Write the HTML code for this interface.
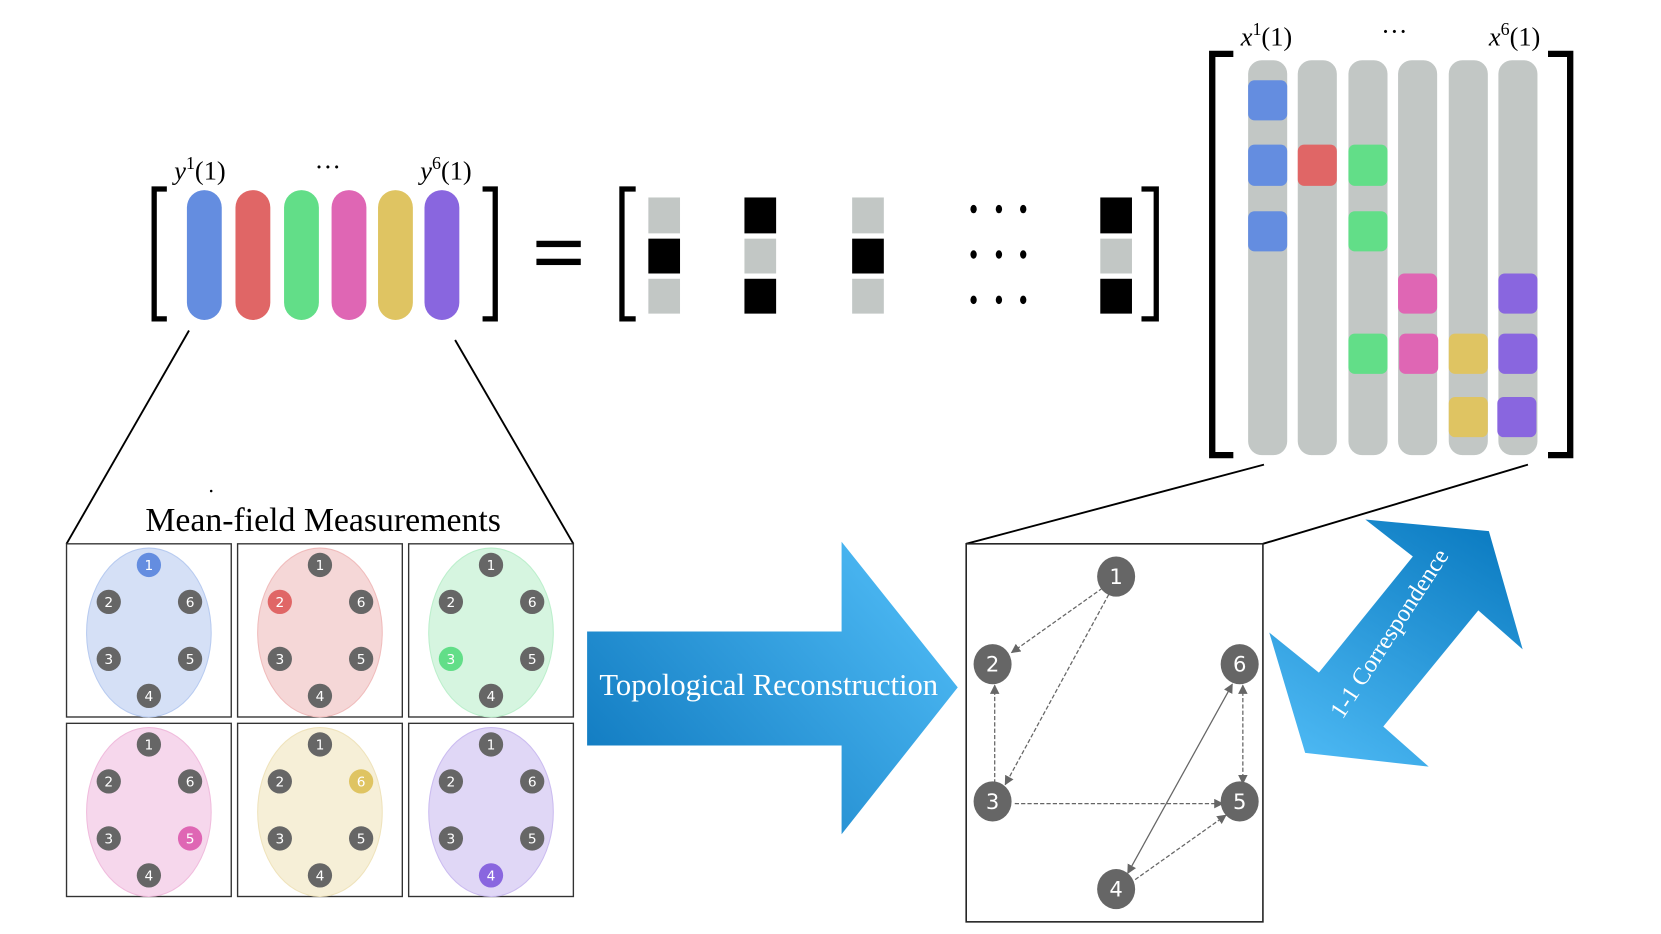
<!DOCTYPE html>
<html><head><meta charset="utf-8"><style>html,body{margin:0;padding:0;background:#fff}svg{display:block}</style></head>
<body>
<svg width="1661" height="934" viewBox="0 0 1573 884.5" xmlns="http://www.w3.org/2000/svg">
<defs>
<linearGradient id="ga" x1="0" y1="1" x2="1" y2="0.3">
<stop offset="0" stop-color="#0a74bb"/><stop offset="1" stop-color="#4cb8f3"/></linearGradient>
<linearGradient id="gb" x1="0.2" y1="1" x2="0.8" y2="0">
<stop offset="0" stop-color="#4cb8f3"/><stop offset="1" stop-color="#0c7cc2"/></linearGradient>
<marker id="ah" viewBox="0 0 10 10" refX="9" refY="5" markerWidth="9" markerHeight="9" markerUnits="userSpaceOnUse" orient="auto-start-reverse">
<path d="M0,0 L10,5 L0,10 z" fill="#666"/></marker>
</defs>

<g font-family="Liberation Serif, serif" font-size="25" fill="#000">
<text x="165" y="170"><tspan font-style="italic">y</tspan><tspan font-size="17" dy="-10">1</tspan><tspan dy="10">(1)</tspan></text>
<text x="298" y="166">···</text>
<text x="398" y="170"><tspan font-style="italic">y</tspan><tspan font-size="17" dy="-10">6</tspan><tspan dy="10">(1)</tspan></text>
</g>
<path d="M158,179 H146 V302 H158" fill="none" stroke="#000" stroke-width="5"/>
<path d="M457,179 H469 V302 H457" fill="none" stroke="#000" stroke-width="5"/>
<rect x="177" y="180" width="33" height="123" rx="16.5" fill="#648de0"/>
<rect x="223" y="180" width="33" height="123" rx="16.5" fill="#e06666"/>
<rect x="269" y="180" width="33" height="123" rx="16.5" fill="#62de88"/>
<rect x="314" y="180" width="33" height="123" rx="16.5" fill="#df66b4"/>
<rect x="358" y="180" width="33" height="123" rx="16.5" fill="#dfc462"/>
<rect x="402" y="180" width="33" height="123" rx="16.5" fill="#8966df"/>

<rect x="508" y="228" width="42" height="6" fill="#000"/>
<rect x="508" y="245" width="42" height="6" fill="#000"/>

<path d="M602,179 H589 V302 H602" fill="none" stroke="#000" stroke-width="5"/>
<path d="M1081,179 H1095 V302 H1081" fill="none" stroke="#000" stroke-width="5"/>
<g>
<rect x="614" y="187" width="30" height="34" fill="#c2c7c5"/><rect x="614" y="226" width="30" height="33" fill="#000"/><rect x="614" y="264" width="30" height="33" fill="#c2c7c5"/>
<rect x="705" y="187" width="30" height="34" fill="#000"/><rect x="705" y="226" width="30" height="33" fill="#c2c7c5"/><rect x="705" y="264" width="30" height="33" fill="#000"/>
<rect x="807" y="187" width="30" height="34" fill="#c2c7c5"/><rect x="807" y="226" width="30" height="33" fill="#000"/><rect x="807" y="264" width="30" height="33" fill="#c2c7c5"/>
<rect x="1042" y="187" width="30" height="34" fill="#000"/><rect x="1042" y="226" width="30" height="33" fill="#c2c7c5"/><rect x="1042" y="264" width="30" height="33" fill="#000"/>
</g>
<g fill="#000">
<ellipse cx="922" cy="198" rx="3" ry="4"/><ellipse cx="946" cy="198" rx="3" ry="4"/><ellipse cx="969" cy="198" rx="3" ry="4"/>
<ellipse cx="922" cy="241" rx="3" ry="4"/><ellipse cx="946" cy="241" rx="3" ry="4"/><ellipse cx="969" cy="241" rx="3" ry="4"/>
<ellipse cx="922" cy="284" rx="3" ry="4"/><ellipse cx="946" cy="284" rx="3" ry="4"/><ellipse cx="969" cy="284" rx="3" ry="4"/>
</g>

<g font-family="Liberation Serif, serif" font-size="25" fill="#000">
<text x="1175" y="43"><tspan font-style="italic">x</tspan><tspan font-size="17" dy="-10">1</tspan><tspan dy="10">(1)</tspan></text>
<text x="1308" y="38">···</text>
<text x="1410" y="43"><tspan font-style="italic">x</tspan><tspan font-size="17" dy="-10">6</tspan><tspan dy="10">(1)</tspan></text>
</g>
<path d="M1168,51 H1148 V431 H1168" fill="none" stroke="#000" stroke-width="6"/>
<path d="M1466,51 H1487 V431 H1466" fill="none" stroke="#000" stroke-width="6"/>
<g fill="#c2c7c5">
<rect x="1182" y="57" width="37" height="374" rx="13"/>
<rect x="1229" y="57" width="37" height="374" rx="13"/>
<rect x="1277" y="57" width="37" height="374" rx="13"/>
<rect x="1324" y="57" width="37" height="374" rx="13"/>
<rect x="1372" y="57" width="37" height="374" rx="13"/>
<rect x="1419" y="57" width="37" height="374" rx="13"/>
</g>
<g>
<rect x="1182" y="76" width="37" height="38" rx="6" fill="#648de0"/>
<rect x="1182" y="137" width="37" height="39" rx="6" fill="#648de0"/>
<rect x="1182" y="200" width="37" height="38" rx="6" fill="#648de0"/>
<rect x="1229" y="137" width="37" height="39" rx="6" fill="#e06666"/>
<rect x="1277" y="137" width="37" height="39" rx="6" fill="#62de88"/>
<rect x="1277" y="200" width="37" height="38" rx="6" fill="#62de88"/>
<rect x="1277" y="316" width="37" height="38" rx="6" fill="#62de88"/>
<rect x="1324" y="259" width="37" height="38" rx="6" fill="#df66b4"/>
<rect x="1325" y="316" width="37" height="38" rx="6" fill="#df66b4"/>
<rect x="1372" y="316" width="37" height="38" rx="6" fill="#dfc462"/>
<rect x="1372" y="376" width="37" height="38" rx="6" fill="#dfc462"/>
<rect x="1419" y="259" width="37" height="38" rx="6" fill="#8966df"/>
<rect x="1419" y="316" width="37" height="38" rx="6" fill="#8966df"/>
<rect x="1418" y="376" width="37" height="38" rx="6" fill="#8966df"/>
</g>

<g stroke="#000" stroke-width="1.8">
<line x1="179" y1="313" x2="63" y2="515"/>
<line x1="431" y1="322" x2="543" y2="515"/>
<line x1="1197" y1="440" x2="915" y2="515"/>
<line x1="1447" y1="440" x2="1196" y2="515"/>
</g>
<circle cx="200" cy="465" r="1.2" fill="#000"/>
<text x="306" y="503" text-anchor="middle" font-family="Liberation Serif, serif" font-size="32" fill="#000">Mean-field Measurements</text>

<g font-family="DejaVu Sans, sans-serif" font-size="13" text-anchor="middle">
<g transform="translate(63,515)">
<rect x="0" y="0" width="156" height="164" fill="#fff" stroke="#333" stroke-width="1.3"/>
<ellipse cx="78" cy="84" rx="59" ry="80" fill="#d5e0f6" stroke="#b8cbf0"/>
<circle cx="78" cy="20" r="11.5" fill="#648de0"/><circle cx="40" cy="55" r="11.5" fill="#666"/><circle cx="117" cy="55" r="11.5" fill="#666"/><circle cx="40" cy="109" r="11.5" fill="#666"/><circle cx="117" cy="109" r="11.5" fill="#666"/><circle cx="78" cy="144" r="11.5" fill="#666"/>
<g fill="#fff"><text x="78" y="25">1</text><text x="40" y="60">2</text><text x="117" y="60">6</text><text x="40" y="114">3</text><text x="117" y="114">5</text><text x="78" y="149">4</text></g>
</g>
<g transform="translate(225,515)">
<rect x="0" y="0" width="156" height="164" fill="#fff" stroke="#333" stroke-width="1.3"/>
<ellipse cx="78" cy="84" rx="59" ry="80" fill="#f5d7d7" stroke="#f0bcbc"/>
<circle cx="78" cy="20" r="11.5" fill="#666"/><circle cx="40" cy="55" r="11.5" fill="#e06666"/><circle cx="117" cy="55" r="11.5" fill="#666"/><circle cx="40" cy="109" r="11.5" fill="#666"/><circle cx="117" cy="109" r="11.5" fill="#666"/><circle cx="78" cy="144" r="11.5" fill="#666"/>
<g fill="#fff"><text x="78" y="25">1</text><text x="40" y="60">2</text><text x="117" y="60">6</text><text x="40" y="114">3</text><text x="117" y="114">5</text><text x="78" y="149">4</text></g>
</g>
<g transform="translate(387,515)">
<rect x="0" y="0" width="156" height="164" fill="#fff" stroke="#333" stroke-width="1.3"/>
<ellipse cx="78" cy="84" rx="59" ry="80" fill="#d6f5e0" stroke="#bcefcc"/>
<circle cx="78" cy="20" r="11.5" fill="#666"/><circle cx="40" cy="55" r="11.5" fill="#666"/><circle cx="117" cy="55" r="11.5" fill="#666"/><circle cx="40" cy="109" r="11.5" fill="#62de88"/><circle cx="117" cy="109" r="11.5" fill="#666"/><circle cx="78" cy="144" r="11.5" fill="#666"/>
<g fill="#fff"><text x="78" y="25">1</text><text x="40" y="60">2</text><text x="117" y="60">6</text><text x="40" y="114">3</text><text x="117" y="114">5</text><text x="78" y="149">4</text></g>
</g>
<g transform="translate(63,685)">
<rect x="0" y="0" width="156" height="164" fill="#fff" stroke="#333" stroke-width="1.3"/>
<ellipse cx="78" cy="84" rx="59" ry="80" fill="#f6d7ec" stroke="#f0bcdd"/>
<circle cx="78" cy="20" r="11.5" fill="#666"/><circle cx="40" cy="55" r="11.5" fill="#666"/><circle cx="117" cy="55" r="11.5" fill="#666"/><circle cx="40" cy="109" r="11.5" fill="#666"/><circle cx="117" cy="109" r="11.5" fill="#df66b4"/><circle cx="78" cy="144" r="11.5" fill="#666"/>
<g fill="#fff"><text x="78" y="25">1</text><text x="40" y="60">2</text><text x="117" y="60">6</text><text x="40" y="114">3</text><text x="117" y="114">5</text><text x="78" y="149">4</text></g>
</g>
<g transform="translate(225,685)">
<rect x="0" y="0" width="156" height="164" fill="#fff" stroke="#333" stroke-width="1.3"/>
<ellipse cx="78" cy="84" rx="59" ry="80" fill="#f6efd7" stroke="#efe3bc"/>
<circle cx="78" cy="20" r="11.5" fill="#666"/><circle cx="40" cy="55" r="11.5" fill="#666"/><circle cx="117" cy="55" r="11.5" fill="#dfc462"/><circle cx="40" cy="109" r="11.5" fill="#666"/><circle cx="117" cy="109" r="11.5" fill="#666"/><circle cx="78" cy="144" r="11.5" fill="#666"/>
<g fill="#fff"><text x="78" y="25">1</text><text x="40" y="60">2</text><text x="117" y="60">6</text><text x="40" y="114">3</text><text x="117" y="114">5</text><text x="78" y="149">4</text></g>
</g>
<g transform="translate(387,685)">
<rect x="0" y="0" width="156" height="164" fill="#fff" stroke="#333" stroke-width="1.3"/>
<ellipse cx="78" cy="84" rx="59" ry="80" fill="#e0d7f6" stroke="#cbbcf0"/>
<circle cx="78" cy="20" r="11.5" fill="#666"/><circle cx="40" cy="55" r="11.5" fill="#666"/><circle cx="117" cy="55" r="11.5" fill="#666"/><circle cx="40" cy="109" r="11.5" fill="#666"/><circle cx="117" cy="109" r="11.5" fill="#666"/><circle cx="78" cy="144" r="11.5" fill="#8966df"/>
<g fill="#fff"><text x="78" y="25">1</text><text x="40" y="60">2</text><text x="117" y="60">6</text><text x="40" y="114">3</text><text x="117" y="114">5</text><text x="78" y="149">4</text></g>
</g>
</g>

<polygon points="556,598 797,598 797,513 907,651 797,790 797,706 556,706" fill="url(#ga)"/>
<text x="728" y="658" text-anchor="middle" font-family="Liberation Serif, serif" font-size="29" fill="#fff">Topological Reconstruction</text>

<rect x="915" y="515" width="281" height="358" fill="#fff" stroke="#222" stroke-width="1.5"/>
<g stroke="#666" stroke-width="1.2" fill="none">
<line x1="1044" y1="557" x2="958" y2="618" stroke-dasharray="4,2" marker-end="url(#ah)"/>
<line x1="1050" y1="563" x2="952" y2="743" stroke-dasharray="4,2" marker-end="url(#ah)"/>
<line x1="942" y1="742" x2="942" y2="649" stroke-dasharray="4,2" marker-end="url(#ah)"/>
<line x1="961" y1="761" x2="1158" y2="761" stroke-dasharray="4,2" marker-end="url(#ah)"/>
<line x1="1068" y1="827" x2="1167" y2="648" marker-start="url(#ah)" marker-end="url(#ah)"/>
<line x1="1177" y1="649" x2="1177" y2="742" stroke-dasharray="4,2" marker-start="url(#ah)" marker-end="url(#ah)"/>
<line x1="1075" y1="833" x2="1161" y2="772" stroke-dasharray="4,2" marker-end="url(#ah)"/>
</g>
<g fill="#666">
<ellipse cx="1057" cy="546" rx="18" ry="19"/><ellipse cx="940" cy="629" rx="18" ry="19"/><ellipse cx="1174" cy="629" rx="18" ry="19"/>
<ellipse cx="940" cy="759" rx="18" ry="19"/><ellipse cx="1174" cy="759" rx="18" ry="19"/><ellipse cx="1057" cy="842" rx="18" ry="19"/>
</g>
<g fill="#fff" font-family="DejaVu Sans, sans-serif" font-size="20" text-anchor="middle">
<text x="1057" y="553">1</text><text x="940" y="636">2</text><text x="1174" y="636">6</text>
<text x="940" y="766">3</text><text x="1174" y="766">5</text><text x="1057" y="849">4</text>
</g>

<polygon points="1293,492 1410,503 1442,615 1400,578 1310,688 1353,726 1236,713 1202,599 1249,637 1338,527" fill="url(#gb)"/>
<text transform="translate(1322,604) rotate(-57)" text-anchor="middle" font-family="Liberation Serif, serif" font-size="23" fill="#fff">1-1 Correspondence</text>
</svg>
</body></html>
